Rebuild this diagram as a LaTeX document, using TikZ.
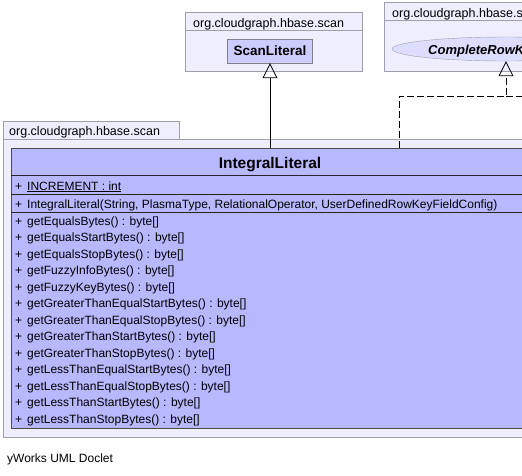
\documentclass[tikz,border=0pt]{standalone}
\usepackage{fontspec}
\setmainfont{Liberation Sans}
\usetikzlibrary{arrows.meta, positioning, shapes.geometric}

\definecolor{pkgfill}{HTML}{EEEEFF}
\definecolor{pkgline}{HTML}{A0A0A8}
\definecolor{classfill}{HTML}{B8B8FF}
\definecolor{innerfill}{HTML}{CCCCFF}
\definecolor{ellfill}{HTML}{DDDDFF}

\begin{document}
\begin{tikzpicture}[x=1pt, y=-1pt,
    pkg/.style={fill=pkgfill, draw=pkgline, line width=1pt},
    pkgtitle/.style={anchor=base west, inner sep=0pt, font=\fontsize{12.5}{14}\selectfont},
    member/.style={anchor=base west, inner sep=0pt, font=\fontsize{12}{14}\selectfont},
    inherit/.style={-{Triangle[open, length=15pt, width=15pt]}, line width=0.8pt},
    realize/.style={inherit, dash pattern=on 7pt off 3pt}]
    \useasboundingbox (0,0) rectangle (522,475);
    \clip (0,0) rectangle (522,475);
    \fill[white] (0,0) rectangle (522,475);
    % package of ScanLiteral
    \draw[pkg] (185,12) rectangle (362,71);
    \draw[pkgline, line width=1pt] (185,30) -- (362,30);
    \node[pkgtitle] (pkga) at (193,27) {org.cloudgraph.hbase.scan};
    \node[draw=pkgline!80!black, fill=innerfill, minimum width=85, minimum height=24,
          font=\fontsize{13.5}{15}\selectfont\bfseries] (scanlit) at (270,51) {ScanLiteral};
    % package of CompleteRowKey
    \draw[pkg] (384,2) rectangle (600,71);
    \draw[pkgline, line width=1pt] (384,20) -- (600,20);
    \node[pkgtitle] (pkgb) at (392,17) {org.cloudgraph.hbase.scan};
    \node[ellipse, draw=pkgline, fill=ellfill, minimum width=228, minimum height=24] (complete) at (506,49) {};
    \node[anchor=base west, inner sep=0pt, font=\fontsize{13}{15}\selectfont\bfseries\itshape] (completename) at (428,54) {CompleteRowKey};
    % package of IntegralLiteral
    \draw[pkg] (3,121) rectangle (179,139);
    \node[pkgtitle] (pkgc) at (9,135) {org.cloudgraph.hbase.scan};
    \draw[pkg] (3,139) rectangle (600,437);
    \node[draw=black!70, fill=classfill, line width=0.8pt, minimum width=518, minimum height=280] (integral) at (270,288) {};
    \node[anchor=base, inner sep=0pt, font=\fontsize{15.5}{17}\selectfont\bfseries] (title) at (270,168) {IntegralLiteral};
    \foreach \y in {175,194,212} {
        \draw[black!85, line width=0.8pt] (11,\y) -- (529,\y);
    }
    \node[member] (attrvis) at (15,190) {+};
    \node[member] (attr) at (27,190) {\underline{INCREMENT : int}};
    \node[member] (ctorvis) at (15,208) {+};
    \node[member] (ctor) at (27,208) {IntegralLiteral(String, PlasmaType, RelationalOperator, UserDefinedRowKeyFieldConfig)};
    \foreach \m [count=\i from 0] in {getEqualsBytes,getEqualsStartBytes,getEqualsStopBytes,getFuzzyInfoBytes,getFuzzyKeyBytes,getGreaterThanEqualStartBytes,getGreaterThanEqualStopBytes,getGreaterThanStartBytes,getGreaterThanStopBytes,getLessThanEqualStartBytes,getLessThanEqualStopBytes,getLessThanStartBytes,getLessThanStopBytes} {
        \node[member] (v\i) at (15,225+16.5*\i) {+};
        \node[member] (m\i) at (27,225+16.5*\i) {\m() : byte[]};
    }
    % relations
    \draw[inherit] (integral.north) -- (scanlit.south);
    \draw[realize] ([xshift=129pt]integral.north) |- (506,96) -- (complete.south);
    \draw[dash pattern=on 7pt off 3pt, line width=0.8pt] (506,96) -- (540,96);
    \node[anchor=base west, inner sep=0pt, font=\fontsize{12}{14}\selectfont] (doclet) at (7,462) {yWorks UML Doclet};
\end{tikzpicture}
\end{document}
